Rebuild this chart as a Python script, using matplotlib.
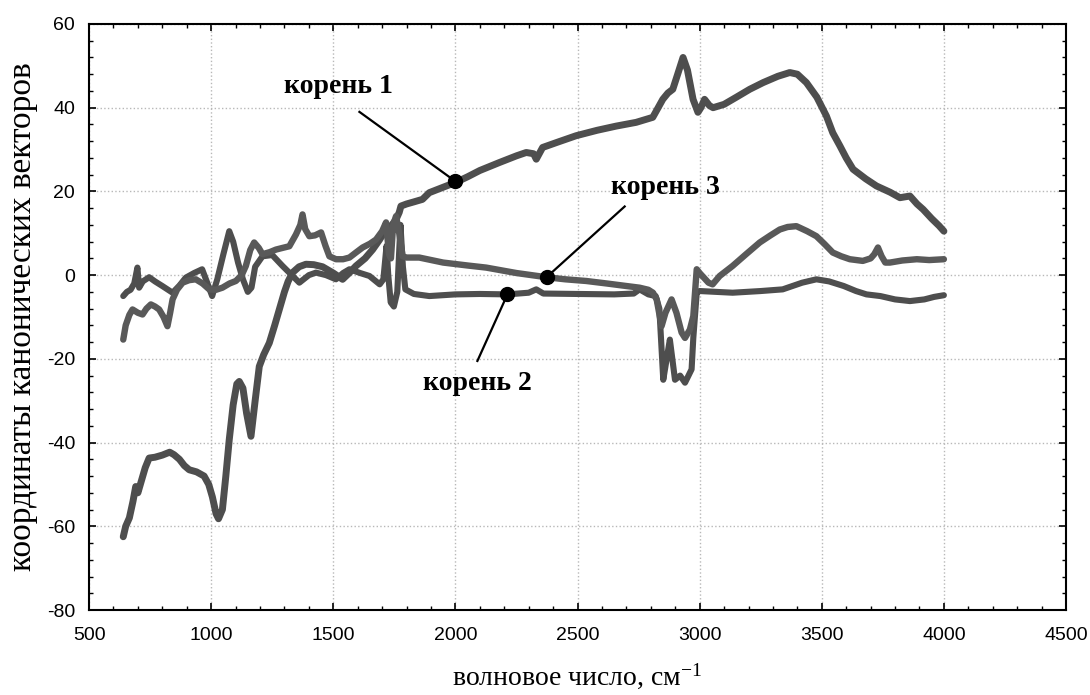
import matplotlib
matplotlib.use("Agg")
import matplotlib.pyplot as plt
from matplotlib.ticker import MultipleLocator

plt.rcParams["axes.unicode_minus"] = False
plt.rcParams["mathtext.fontset"] = "custom"
plt.rcParams["mathtext.rm"] = "Liberation Serif"
plt.rcParams["mathtext.it"] = "Liberation Serif:italic"

# ---------------- data ----------------
x1 = [640, 650, 665, 680, 691, 700, 715, 730, 746, 770, 800, 830, 848, 870, 890, 910, 940, 971,
      990, 1005, 1020, 1030, 1046, 1060, 1074, 1090, 1105, 1115, 1130, 1145, 1163, 1180, 1197,
      1215, 1238, 1260, 1279, 1300, 1315, 1333, 1360, 1388, 1420, 1456, 1500, 1538, 1565, 1593,
      1630, 1661, 1690, 1716, 1740, 1757, 1770, 1777, 1800, 1830, 1865, 1893, 1950, 2003, 2050,
      2100, 2180, 2250, 2290, 2320, 2331, 2357, 2420, 2494, 2580, 2658, 2740, 2808, 2830, 2849,
      2870, 2890, 2910, 2932, 2950, 2973, 2993, 3005, 3020, 3040, 3055, 3100, 3150, 3205, 3260,
      3320, 3369, 3400, 3437, 3480, 3519, 3545, 3574, 3600, 3628, 3680, 3724, 3780, 3820, 3861,
      3890, 3915, 3950, 3980, 4000]
y1 = [-62.5, -60, -58, -54, -50.5, -52, -49, -46, -43.7, -43.5, -43, -42.3, -42.9, -44, -45.5,
      -46.5, -47, -48, -50, -53, -57, -58.2, -56, -48, -39.3, -31, -26, -25.4, -27, -33, -38.5,
      -30, -21.8, -19, -16.2, -12, -8.2, -4, -1.5, 0.6, 2, 2.6, 2.5, 2, 0.5, -1, 0.5, 2.2, 4, 6.1,
      8.5, 11, 12, 13.3, 15, 16.5, 17, 17.5, 18.1, 19.7, 21, 22.2, 23.5, 25, 26.9, 28.5, 29.3, 29,
      27.7, 30.5, 31.8, 33.3, 34.6, 35.6, 36.5, 37.7, 40, 42, 43.5, 44.4, 48, 52, 49, 42, 38.9, 40,
      42, 40.5, 40, 40.8, 42.5, 44.4, 46, 47.5, 48.4, 48, 46, 42.5, 38, 34, 30.9, 28, 25.3, 23,
      21.3, 19.8, 18.5, 18.9, 17, 15.7, 13.5, 11.8, 10.5]

x2 = [640, 655, 670, 685, 698, 705, 720, 746, 770, 800, 842, 870, 896, 930, 963, 985, 1004, 1025,
      1050, 1074, 1090, 1110, 1130, 1150, 1165, 1180, 1210, 1250, 1292, 1330, 1361, 1400, 1429,
      1470, 1511, 1540, 1566, 1610, 1648, 1690, 1705, 1718, 1725, 1735, 1748, 1762, 1775, 1785,
      1795, 1830, 1893, 2000, 2100, 2213, 2300, 2331, 2360, 2500, 2650, 2730, 2754, 2790, 2820,
      2835, 2851, 2865, 2878, 2899, 2920, 2940, 2967, 2974, 2988, 3000, 3135, 3250, 3340, 3420,
      3478, 3530, 3590, 3640, 3683, 3740, 3800, 3861, 3920, 3960, 4000]
y2 = [-5, -4, -3.5, -2, 1.8, -3, -1.5, -0.5, -1.5, -2.6, -4.2, -2.5, -0.6, 0.5, 1.4, -2, -5, -1,
      5, 10.5, 8, 3, -1, -4, -3, 2, 4.5, 4.8, 2.2, 0, -1.8, 0, 0.6, 0, -1, 0.5, 1.4, 0.5, -0.2,
      -2.2, -1, 7, 0, -6.5, -7.5, -4, 12, 2, -3.4, -4.5, -5, -4.6, -4.5, -4.6, -4.2, -3.4, -4.4,
      -4.5, -4.6, -4.4, -3.4, -4.6, -5, -8, -25, -20, -15.4, -25, -24, -25.7, -22.5, -15, -4.2,
      -3.8, -4.2, -3.8, -3.4, -1.8, -1, -1.5, -2.6, -3.8, -4.6, -5, -5.8, -6.2, -5.8, -5.2, -4.8]

x3 = [640, 650, 665, 678, 700, 719, 735, 753, 770, 787, 805, 821, 832, 842, 860, 883, 910, 937,
      965, 992, 1020, 1046, 1075, 1101, 1125, 1142, 1160, 1176, 1195, 1210, 1240, 1265, 1292,
      1320, 1347, 1365, 1374, 1385, 1402, 1425, 1450, 1468, 1484, 1511, 1540, 1566, 1595, 1620,
      1650, 1675, 1700, 1716, 1728, 1736, 1745, 1757, 1770, 1784, 1800, 1852, 1950, 2050, 2126,
      2250, 2373, 2450, 2536, 2620, 2700, 2754, 2790, 2809, 2824, 2844, 2860, 2885, 2905, 2926,
      2940, 2960, 2974, 2988, 3000, 3036, 3053, 3082, 3135, 3190, 3246, 3290, 3328, 3360, 3396,
      3440, 3478, 3510, 3545, 3580, 3615, 3668, 3700, 3715, 3730, 3745, 3760, 3779, 3830, 3889,
      3940, 4000]
y3 = [-15.4, -12, -9.5, -8.2, -9, -9.4, -8, -7, -7.5, -8.2, -10, -12.2, -9, -5.8, -3.5, -1.8,
      -1.2, -1, -2, -3.4, -3.5, -3, -2, -1.4, 0, 2.2, 6, 7.8, 6.5, 5, 5.5, 6.1, 6.5, 6.9, 9.7, 12,
      14.5, 11, 9.3, 9.5, 10.2, 7, 4.5, 3.8, 3.8, 4.2, 5.5, 6.6, 7.5, 8.5, 10.5, 12.6, 5, 4, 12,
      14.1, 10, 4.5, 4.2, 4.2, 3, 2.3, 1.8, 0.5, -0.5, -1, -1.4, -2, -2.6, -3, -3.5, -4.2, -5.8,
      -12.2, -9, -5.8, -9, -13.7, -15, -13, -9.8, 1.4, 0.5, -1.8, -2.2, -0.2, 2.2, 5, 7.8, 9.5,
      10.9, 11.5, 11.7, 10.5, 9.3, 7.5, 5.4, 4.5, 3.8, 3.4, 4, 5, 6.6, 4.5, 3, 3, 3.5, 3.8, 3.6,
      3.8]

labels = ["корень 1", "корень 2", "корень 3"]
ann_x = [2000, 2213, 2373]          # annotated points on the curves
ann_y = [22.4, -4.6, -0.5]

x_ticks = [500, 1000, 1500, 2000, 2500, 3000, 3500, 4000, 4500]
y_ticks = [-80, -60, -40, -20, 0, 20, 40, 60]

# ---------------- figure ----------------
fig = plt.figure(figsize=(10.9, 6.95), dpi=100)
ax = fig.add_axes([0.0817, 0.1223, 0.8963, 0.8432])

line_col = "#4e4e4e"
ax.plot(x1, y1, color=line_col, lw=5.0, solid_joinstyle="round", solid_capstyle="round", zorder=3)
ax.plot(x2, y2, color=line_col, lw=4.4, solid_joinstyle="round", solid_capstyle="round", zorder=3)
ax.plot(x3, y3, color="#595959", lw=4.6, solid_joinstyle="round", solid_capstyle="round", zorder=3)

ax.set_xlim(500, 4500)
ax.set_ylim(-80, 60)
ax.set_xticks(x_ticks)
ax.set_yticks(y_ticks)
ax.xaxis.set_minor_locator(MultipleLocator(100))
ax.yaxis.set_minor_locator(MultipleLocator(4))

ax.grid(True, which="major", linestyle=":", color="#b8b8b8", lw=1.0, zorder=0)
ax.tick_params(which="both", direction="in", top=True, right=True, colors="black")
ax.tick_params(which="major", length=5, width=1.2)
ax.tick_params(which="minor", length=3, width=1.0)
ax.tick_params(axis="y", pad=10)
ax.tick_params(axis="x", pad=12)
for lab in ax.get_xticklabels() + ax.get_yticklabels():
    lab.set_fontfamily("Liberation Sans")
    lab.set_fontsize(14)
for sp in ax.spines.values():
    sp.set_linewidth(1.5)
    sp.set_color("black")

# annotations
text_pos = [(1520, 45.0), (2090, -26.0), (2860, 21.0)]
line_start = [(1607, 39.0), (2090, -20.5), (2693, 16.4)]
for lab, px, py, tp, ls in zip(labels, ann_x, ann_y, text_pos, line_start):
    ax.plot([ls[0], px], [ls[1], py], color="black", lw=1.6, zorder=4)
    ax.plot(px, py, "o", color="black", ms=10, zorder=5)
    ax.text(tp[0], tp[1], lab, ha="center", va="center", fontsize=20,
            fontfamily="Liberation Serif", fontweight="bold", zorder=5)

ax.set_xlabel("волновое число, см$^{-1}$", fontsize=20, fontfamily="Liberation Serif", labelpad=13)
ax.set_ylabel("координаты канонических векторов", fontsize=24, fontfamily="Liberation Serif", labelpad=6)

fig.savefig("out.png", dpi=100, facecolor="white")
